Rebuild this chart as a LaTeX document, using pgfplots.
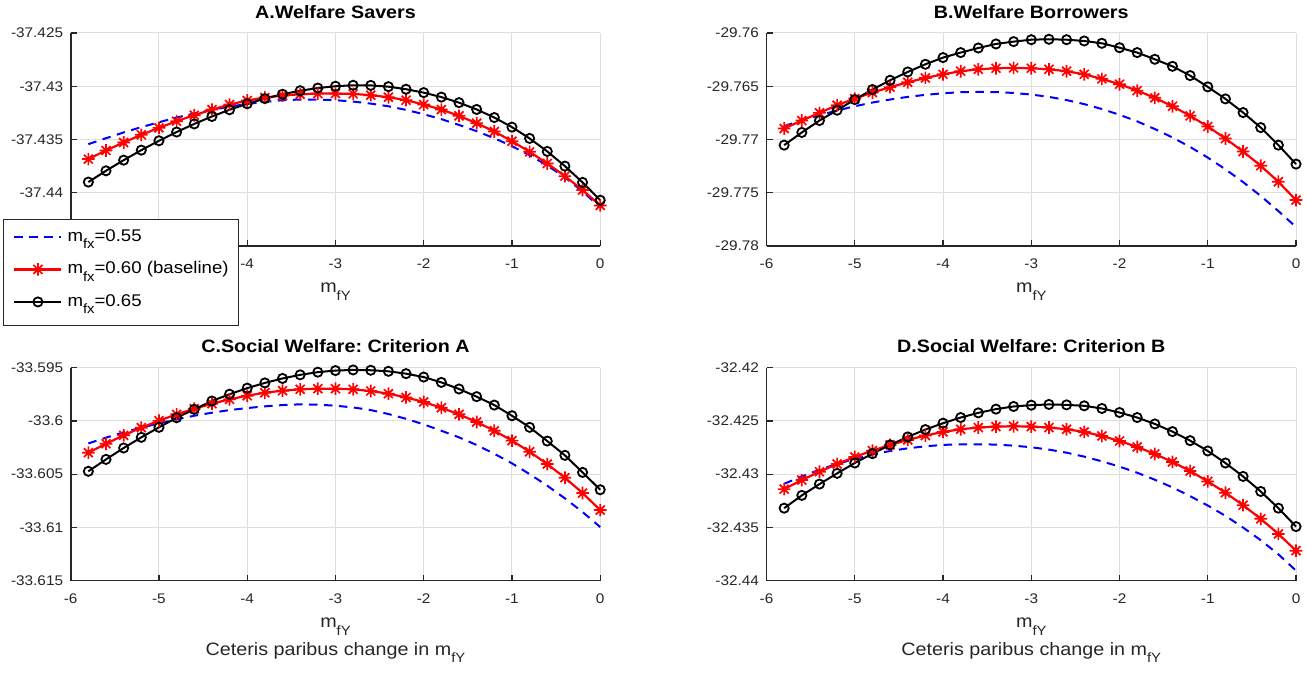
\documentclass[border=0pt]{standalone}
\usepackage{fontspec}
\setmainfont{Liberation Sans}[FakeStretch=1.1]
\usepackage{xfp}
\usepackage{pgfplots}
\usepackage{pgfplotstable}
\pgfplotsset{compat=1.18}
\frenchspacing
\definecolor{axcol}{RGB}{38,38,38}
\definecolor{gridcol}{RGB}{222,222,222}
\newcommand\sub[1]{\raisebox{-7.5bp}{\fontsize{13.5}{14}\selectfont #1}}

\pgfdeclareplotmark{mstar}{%
  \pgfpathmoveto{\pgfqpoint{-\pgfplotmarksize}{0pt}}\pgfpathlineto{\pgfqpoint{\pgfplotmarksize}{0pt}}%
  \pgfpathmoveto{\pgfqpoint{0pt}{-\pgfplotmarksize}}\pgfpathlineto{\pgfqpoint{0pt}{\pgfplotmarksize}}%
  \pgfpathmoveto{\pgfqpoint{-.7071\pgfplotmarksize}{-.7071\pgfplotmarksize}}\pgfpathlineto{\pgfqpoint{.7071\pgfplotmarksize}{.7071\pgfplotmarksize}}%
  \pgfpathmoveto{\pgfqpoint{-.7071\pgfplotmarksize}{.7071\pgfplotmarksize}}\pgfpathlineto{\pgfqpoint{.7071\pgfplotmarksize}{-.7071\pgfplotmarksize}}%
  \pgfusepathqstroke}

% columns: x, a = m_fx 0.55, b = m_fx 0.60, c = m_fx 0.65
\pgfplotstableread{
x a b c
-5.8 -37.43544 -37.43684 -37.43900
-5.6 -37.43488 -37.43603 -37.43794
-5.4 -37.43434 -37.43528 -37.43694
-5.2 -37.43384 -37.43456 -37.43600
-5.0 -37.43338 -37.43391 -37.43512
-4.8 -37.43294 -37.43328 -37.43430
-4.6 -37.43256 -37.43272 -37.43354
-4.4 -37.43222 -37.43219 -37.43284
-4.2 -37.43191 -37.43172 -37.43221
-4.0 -37.43166 -37.43134 -37.43165
-3.8 -37.43147 -37.43106 -37.43116
-3.6 -37.43131 -37.43088 -37.43075
-3.4 -37.43125 -37.43075 -37.43042
-3.2 -37.43125 -37.43069 -37.43017
-3.0 -37.43131 -37.43069 -37.43000
-2.8 -37.43144 -37.43072 -37.42991
-2.6 -37.43163 -37.43084 -37.42992
-2.4 -37.43188 -37.43103 -37.43004
-2.2 -37.43222 -37.43131 -37.43028
-2.0 -37.43263 -37.43172 -37.43060
-1.8 -37.43309 -37.43219 -37.43102
-1.6 -37.43363 -37.43278 -37.43154
-1.4 -37.43422 -37.43347 -37.43218
-1.2 -37.43488 -37.43425 -37.43294
-1.0 -37.43563 -37.43516 -37.43384
-0.8 -37.43647 -37.43616 -37.43490
-0.6 -37.43744 -37.43725 -37.43612
-0.4 -37.43856 -37.43844 -37.43750
-0.2 -37.43988 -37.43975 -37.43903
0.0 -37.44138 -37.44119 -37.44070
}\dataA

\pgfplotstableread{
x a b c
-5.8 -29.76875 -29.76897 -29.77053
-5.6 -29.76819 -29.76822 -29.76934
-5.4 -29.76772 -29.76750 -29.76822
-5.2 -29.76728 -29.76678 -29.76725
-5.0 -29.76688 -29.76616 -29.76625
-4.8 -29.76653 -29.76559 -29.76531
-4.6 -29.76625 -29.76509 -29.76444
-4.4 -29.76600 -29.76463 -29.76366
-4.2 -29.76581 -29.76422 -29.76294
-4.0 -29.76566 -29.76388 -29.76231
-3.8 -29.76556 -29.76359 -29.76184
-3.6 -29.76553 -29.76341 -29.76141
-3.4 -29.76555 -29.76331 -29.76103
-3.2 -29.76563 -29.76328 -29.76081
-3.0 -29.76578 -29.76331 -29.76063
-2.8 -29.76600 -29.76341 -29.76059
-2.6 -29.76630 -29.76359 -29.76063
-2.4 -29.76668 -29.76388 -29.76075
-2.2 -29.76714 -29.76431 -29.76097
-2.0 -29.76768 -29.76481 -29.76138
-1.8 -29.76830 -29.76541 -29.76184
-1.6 -29.76902 -29.76609 -29.76247
-1.4 -29.76981 -29.76688 -29.76313
-1.2 -29.77070 -29.76778 -29.76400
-1.0 -29.77170 -29.76878 -29.76506
-0.8 -29.77280 -29.76991 -29.76619
-0.6 -29.77400 -29.77113 -29.76747
-0.4 -29.77530 -29.77247 -29.76888
-0.2 -29.77672 -29.77397 -29.77053
0.0 -29.77822 -29.77569 -29.77231
}\dataB

\pgfplotstableread{
x a b c
-5.8 -33.60211 -33.60298 -33.60473
-5.6 -33.60157 -33.60214 -33.60361
-5.4 -33.60107 -33.60135 -33.60254
-5.2 -33.60063 -33.60063 -33.60154
-5.0 -33.60023 -33.59998 -33.60060
-4.8 -33.59985 -33.59938 -33.59970
-4.6 -33.59951 -33.59885 -33.59891
-4.4 -33.59923 -33.59838 -33.59813
-4.2 -33.59898 -33.59797 -33.59749
-4.0 -33.59879 -33.59763 -33.59692
-3.8 -33.59863 -33.59735 -33.59643
-3.6 -33.59851 -33.59716 -33.59601
-3.4 -33.59844 -33.59703 -33.59567
-3.2 -33.59847 -33.59697 -33.59542
-3.0 -33.59857 -33.59697 -33.59527
-2.8 -33.59873 -33.59703 -33.59521
-2.6 -33.59898 -33.59719 -33.59524
-2.4 -33.59935 -33.59744 -33.59534
-2.2 -33.59980 -33.59779 -33.59556
-2.0 -33.60032 -33.59822 -33.59588
-1.8 -33.60092 -33.59876 -33.59638
-1.6 -33.60154 -33.59938 -33.59700
-1.4 -33.60226 -33.60010 -33.59772
-1.2 -33.60308 -33.60092 -33.59851
-1.0 -33.60398 -33.60185 -33.59951
-0.8 -33.60499 -33.60289 -33.60060
-0.6 -33.60608 -33.60405 -33.60189
-0.4 -33.60727 -33.60533 -33.60323
-0.2 -33.60855 -33.60677 -33.60483
0.0 -33.60996 -33.60837 -33.60646
}\dataC

\pgfplotstableread{
x a b c
-5.8 -32.43090 -32.43140 -32.43319
-5.6 -32.43021 -32.43055 -32.43199
-5.4 -32.42958 -32.42977 -32.43093
-5.2 -32.42904 -32.42904 -32.42992
-5.0 -32.42857 -32.42838 -32.42895
-4.8 -32.42816 -32.42779 -32.42807
-4.6 -32.42782 -32.42725 -32.42725
-4.4 -32.42757 -32.42678 -32.42650
-4.2 -32.42738 -32.42637 -32.42581
-4.0 -32.42725 -32.42603 -32.42521
-3.8 -32.42719 -32.42578 -32.42468
-3.6 -32.42719 -32.42562 -32.42424
-3.4 -32.42722 -32.42553 -32.42389
-3.2 -32.42732 -32.42550 -32.42364
-3.0 -32.42747 -32.42553 -32.42352
-2.8 -32.42769 -32.42562 -32.42345
-2.6 -32.42798 -32.42578 -32.42349
-2.4 -32.42835 -32.42603 -32.42358
-2.2 -32.42879 -32.42641 -32.42383
-2.0 -32.42929 -32.42688 -32.42421
-1.8 -32.42986 -32.42744 -32.42468
-1.6 -32.43052 -32.42810 -32.42528
-1.4 -32.43124 -32.42885 -32.42600
-1.2 -32.43206 -32.42970 -32.42685
-1.0 -32.43294 -32.43068 -32.42782
-0.8 -32.43391 -32.43174 -32.42895
-0.6 -32.43501 -32.43291 -32.43021
-0.4 -32.43620 -32.43419 -32.43162
-0.2 -32.43752 -32.43561 -32.43319
0.0 -32.43906 -32.43718 -32.43492
}\dataD

\pgfplotsset{
  panel/.style={
    scale only axis, width=529.5bp, height=213bp,
    xmin=-6, xmax=0, xtick={-6,-5,-4,-3,-2,-1,0},
    xticklabels={-6,-5,-4,-3,-2,-1,0},
    axis x line*=bottom, axis y line*=left,
    axis line style={color=axcol, line width=1.6bp, -},
    every tick/.style={color=axcol, line width=1.2bp},
    tick align=inside, major tick length=6bp,
    xmajorgrids, ymajorgrids,
    major grid style={color=gridcol, line width=1bp},
    tick label style={font=\fontsize{14}{16}\selectfont, text=axcol, inner sep=0pt},
    xticklabel style={anchor=base, yshift=-22.6bp},
    yticklabel style={anchor=east, xshift=-7.4bp},
    title style={font=\bfseries\fontsize{18}{20}\selectfont, anchor=base, at={(0.5,1)}, yshift=8.8bp, inner sep=0pt},
    xlabel style={font=\fontsize{18}{20}\selectfont, at={(axis description cs:0.5,0)}, anchor=base, yshift=-47bp, text=axcol, inner sep=0pt},
    clip=false,
    legend image code/.code={\draw[mark repeat=2,mark phase=2,##1] plot coordinates {(0bp,4.4bp) (23.5bp,4.4bp) (47bp,4.4bp)};},
  },
  caption/.style={after end axis/.code={\node[font=\fontsize{18}{20}\selectfont, text=axcol, anchor=base, inner sep=0pt] at ([yshift=-74.3bp]rel axis cs:0.5,0) {Ceteris paribus change in m\sub{fY}};}},
  pblue/.style={color=blue, line width=2bp, dash pattern=on 8.5bp off 6.5bp, mark=none},
  pred/.style={color=red, line width=2.2bp, mark=mstar, mark size=6.3bp, mark options={solid, line width=1.7bp}},
  pblack/.style={color=black, line width=2bp, mark=o, mark size=4.6bp, mark options={solid, line width=1.8bp}},
}

\begin{document}
\begin{tikzpicture}[x=1bp,y=1bp]
\path[use as bounding box] (0,0) rectangle (1307,673);

% A (legend covers the -6, -5 and -37.445 labels, as in the reference)
\begin{axis}[panel, at={(70.7bp,427bp)}, anchor=south west,
  title={A.Welfare Savers}, xlabel={m\sub{fY}},
  xticklabels={{},{},-4,-3,-2,-1,0},
  y coord trafo/.code={\edef\pgfmathresult{\fpeval{(#1+37.435)*1000}}},
  ymin=-37.445, ymax=-37.425,
  ytick={-37.445,-37.44,-37.435,-37.43,-37.425},
  yticklabels={{},-37.44,-37.435,-37.43,-37.425},
  legend style={at={(-0.128,0.127)}, anchor=north west, draw=axcol, fill=white,
    line width=0.8bp, inner xsep=10bp, inner ysep=10bp, row sep=11.5bp, column sep=5bp,
    font=\fontsize{17}{19}\selectfont, text=black,
    nodes={inner sep=0pt, text height=12bp, text depth=9bp},
    cells={anchor=base west}},
]
\addplot[pblue] table[x=x,y=a] {\dataA};
\addlegendentry{m\sub{fx}=0.55}
\addplot[pred] table[x=x,y=b] {\dataA};
\addlegendentry{m\sub{fx}=0.60 (baseline)}
\addplot[pblack] table[x=x,y=c] {\dataA};
\addlegendentry{m\sub{fx}=0.65}
\end{axis}

% B
\begin{axis}[panel, at={(766.5bp,427bp)}, anchor=south west,
  title={B.Welfare Borrowers}, xlabel={m\sub{fY}},
  y coord trafo/.code={\edef\pgfmathresult{\fpeval{(#1+29.77)*1000}}},
  ymin=-29.78, ymax=-29.76,
  ytick={-29.78,-29.775,-29.77,-29.765,-29.76},
  yticklabels={-29.78,-29.775,-29.77,-29.765,-29.76},
]
\addplot[pblue] table[x=x,y=a] {\dataB};
\addplot[pred] table[x=x,y=b] {\dataB};
\addplot[pblack] table[x=x,y=c] {\dataB};
\end{axis}

% C
\begin{axis}[panel, caption, at={(70.7bp,92.3bp)}, anchor=south west,
  title={C.Social Welfare: Criterion A}, xlabel={m\sub{fY}},
  y coord trafo/.code={\edef\pgfmathresult{\fpeval{(#1+33.605)*1000}}},
  ymin=-33.615, ymax=-33.595,
  ytick={-33.615,-33.61,-33.605,-33.6,-33.595},
  yticklabels={-33.615,-33.61,-33.605,-33.6,-33.595},
]
\addplot[pblue] table[x=x,y=a] {\dataC};
\addplot[pred] table[x=x,y=b] {\dataC};
\addplot[pblack] table[x=x,y=c] {\dataC};
\end{axis}

% D
\begin{axis}[panel, caption, at={(766.5bp,92.3bp)}, anchor=south west,
  title={D.Social Welfare: Criterion B}, xlabel={m\sub{fY}},
  y coord trafo/.code={\edef\pgfmathresult{\fpeval{(#1+32.43)*1000}}},
  ymin=-32.44, ymax=-32.42,
  ytick={-32.44,-32.435,-32.43,-32.425,-32.42},
  yticklabels={-32.44,-32.435,-32.43,-32.425,-32.42},
]
\addplot[pblue] table[x=x,y=a] {\dataD};
\addplot[pred] table[x=x,y=b] {\dataD};
\addplot[pblack] table[x=x,y=c] {\dataD};
\end{axis}
\end{tikzpicture}
\end{document}
